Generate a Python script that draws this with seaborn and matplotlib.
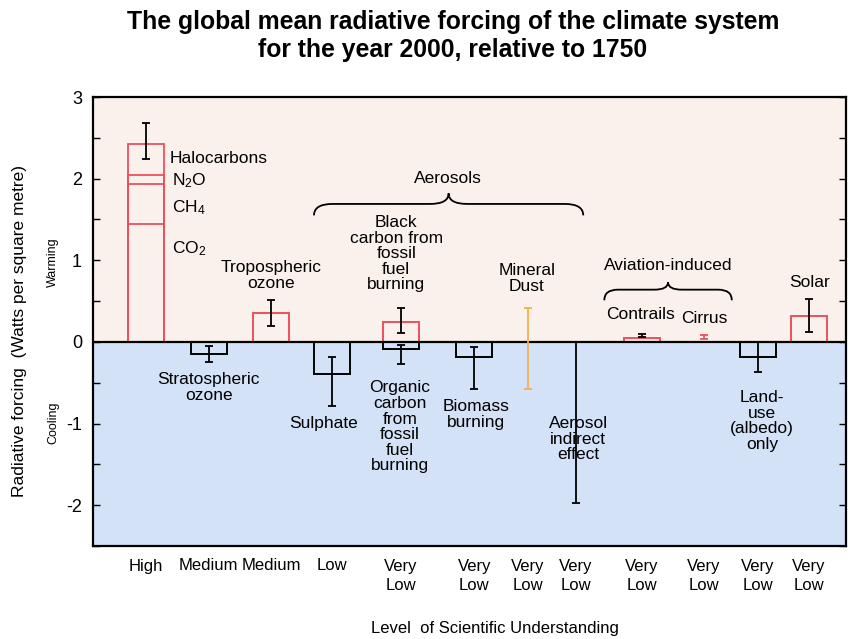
import numpy as np
import pandas as pd
import matplotlib
matplotlib.use("Agg")
import matplotlib.pyplot as plt
import seaborn as sns
from matplotlib.path import Path
from matplotlib.patches import PathPatch
from matplotlib.ticker import MultipleLocator

# --- data (W m-2) ---
ghg_names = ["CO$_2$", "CH$_4$", "N$_2$O", "Halocarbons"]
ghg_values = [1.44, 0.49, 0.12, 0.38]
ghg_err = (2.24, 2.68)

box_names = ["Stratospheric ozone", "Tropospheric ozone", "Sulphate", "Black carbon",
             "Organic carbon", "Biomass burning", "Contrails", "Land-use", "Solar"]
box_values = [-0.15, 0.35, -0.39, 0.24, -0.09, -0.19, 0.045, -0.19, 0.32]
box_warm = [False, True, False, True, False, False, True, False, True]

err_names = ["Stratospheric ozone", "Tropospheric ozone", "Sulphate", "Black carbon",
             "Organic carbon", "Biomass burning", "Mineral dust", "Aerosol indirect",
             "Contrails", "Cirrus", "Land-use", "Solar"]
err_low = [-0.25, 0.20, -0.79, 0.11, -0.27, -0.58, -0.58, -1.97, 0.06, 0.04, -0.37, 0.12]
err_high = [-0.05, 0.51, -0.19, 0.42, -0.04, -0.06, 0.42, 0.0, 0.10, 0.08, 0.0, 0.53]

los_labels = ["High", "Medium", "Medium", "Low", "Very\nLow", "Very\nLow", "Very\nLow",
              "Very\nLow", "Very\nLow", "Very\nLow", "Very\nLow", "Very\nLow"]

# --- layout: x position of each column on the axis ---
col_x = {
    "Greenhouse": 0.86, "Stratospheric ozone": 1.87, "Tropospheric ozone": 2.88,
    "Sulphate": 3.86, "Black carbon": 4.97, "Organic carbon": 4.97,
    "Biomass burning": 6.16, "Mineral dust": 7.03, "Aerosol indirect": 7.80,
    "Contrails": 8.87, "Cirrus": 9.87, "Land-use": 10.74, "Solar": 11.56,
}
tick_x = [0.86, 1.87, 2.88, 3.86, 4.97, 6.16, 7.03, 7.80, 8.87, 9.87, 10.74, 11.56]

RED = "#ee4f5c"
ORANGE = "#f6b04f"
PINK = "#fbf1ec"
BLUE = "#d4e2f8"
BAR_W = 0.58

sns.set_theme(style="ticks")
plt.rcParams["font.family"] = ["Liberation Sans", "DejaVu Sans"]
plt.rcParams["mathtext.fontset"] = "custom"
plt.rcParams["mathtext.rm"] = "Liberation Sans"
plt.rcParams["mathtext.it"] = "Liberation Sans:italic"
plt.rcParams["text.color"] = "black"
plt.rcParams["xtick.color"] = "black"
plt.rcParams["ytick.color"] = "black"

fig = plt.figure(figsize=(8.48, 6.39), dpi=100)
fig.patch.set_facecolor("white")
ax = fig.add_axes([93 / 848, (639 - 546) / 639, (846 - 93) / 848, (546 - 97) / 639])

ax.axhspan(0, 3, color=PINK, zorder=0, lw=0)
ax.axhspan(-2.5, 0, color=BLUE, zorder=0, lw=0)

# stacked greenhouse column drawn as nested open boxes from zero
ghg_df = pd.DataFrame({
    "x": [col_x["Greenhouse"]] * len(ghg_names),
    "value": np.cumsum(ghg_values)[::-1],
    "name": ghg_names[::-1],
})
sns.barplot(ghg_df, x="x", y="value", hue="name", native_scale=True, dodge=False,
            fill=False, width=BAR_W, errorbar=None, legend=False,
            palette={n: RED for n in ghg_names}, linewidth=1.3, ax=ax)

box_df = pd.DataFrame({
    "x": [col_x[n] for n in box_names],
    "value": box_values,
    "name": box_names,
})
native_w = np.diff(np.unique(box_df["x"])).min()
sns.barplot(box_df, x="x", y="value", hue="name", native_scale=True, dodge=False,
            fill=False, width=BAR_W / native_w, errorbar=None, legend=False,
            palette={n: (RED if w else "black") for n, w in zip(box_names, box_warm)},
            linewidth=1.4, ax=ax)

# uncertainty ranges
total = sum(ghg_values)
ax.errorbar([col_x["Greenhouse"]], [total], yerr=[[total - ghg_err[0]], [ghg_err[1] - total]],
            fmt="none", ecolor="black", elinewidth=1.3, capsize=3, capthick=1.3, zorder=5)
for n, lo, hi in zip(err_names, err_low, err_high):
    c = ORANGE if n == "Mineral dust" else (RED if n == "Cirrus" else "black")
    mid = (lo + hi) / 2
    ax.errorbar([col_x[n]], [mid], yerr=[[mid - lo], [hi - mid]], fmt="none", ecolor=c,
                elinewidth=1.3, capsize=3, capthick=1.3, zorder=5)

ax.axhline(0, color="black", lw=1.6, zorder=4)


def brace(x0, x1, y_tip, y_line, y_peak, r=0.3):
    xm = (x0 + x1) / 2
    verts = [(x0, y_tip), (x0, y_line), (x0 + r, y_line), (xm - r, y_line),
             (xm, y_line), (xm, y_peak), (xm, y_line), (xm + r, y_line),
             (x1 - r, y_line), (x1, y_line), (x1, y_tip)]
    codes = [Path.MOVETO, Path.CURVE3, Path.CURVE3, Path.LINETO, Path.CURVE3, Path.CURVE3,
             Path.CURVE3, Path.CURVE3, Path.LINETO, Path.CURVE3, Path.CURVE3]
    ax.add_patch(PathPatch(Path(verts, codes), fill=False, lw=1.3, ec="black", zorder=5))


brace(3.57, 7.92, 1.55, 1.69, 1.82)
brace(8.26, 10.32, 0.51, 0.64, 0.73, r=0.22)

fs = 12.5
txt = dict(fontsize=fs, color="black", linespacing=1.05, zorder=6)
ax.text(1.24, 2.25, "Halocarbons", ha="left", va="center", **txt)
ax.text(1.27, 1.98, "N$_2$O", ha="left", va="center", **txt)
ax.text(1.27, 1.65, "CH$_4$", ha="left", va="center", **txt)
ax.text(1.27, 1.14, "CO$_2$", ha="left", va="center", **txt)
ax.text(2.88, 0.81, "Tropospheric\nozone", ha="center", va="center", **txt)
ax.text(1.87, -0.56, "Stratospheric\nozone", ha="center", va="center", **txt)
ax.text(3.73, -1.00, "Sulphate", ha="center", va="center", **txt)
ax.text(4.96, -1.04, "Organic\ncarbon\nfrom\nfossil\nfuel\nburning", ha="center", va="center", **txt)
ax.text(4.90, 1.08, "Black\ncarbon from\nfossil\nfuel\nburning", ha="center", va="center", **txt)
ax.text(5.73, 2.00, "Aerosols", ha="center", va="center", **txt)
ax.text(7.01, 0.78, "Mineral\nDust", ha="center", va="center", **txt)
ax.text(6.19, -0.89, "Biomass\nburning", ha="center", va="center", **txt)
ax.text(7.84, -1.19, "Aerosol\nindirect\neffect", ha="center", va="center", **txt)
ax.text(9.29, 0.93, "Aviation-induced", ha="center", va="center", **txt)
ax.text(8.84, 0.33, "Contrails", ha="center", va="center", **txt)
ax.text(9.87, 0.29, "Cirrus", ha="center", va="center", **txt)
ax.text(10.81, -0.97, "Land-\nuse\n(albedo)\nonly", ha="center", va="center", **txt)
ax.text(11.58, 0.73, "Solar", ha="center", va="center", **txt)

ax.set_xlim(0, (846 - 93) / 61.9)
ax.set_ylim(-2.5, 3)
ax.set_yticks([-2, -1, 0, 1, 2, 3])
ax.set_yticklabels(["-2", "-1", "0", "1", "2", "3"])
ax.yaxis.set_minor_locator(MultipleLocator(0.5))
ax.tick_params(axis="y", which="both", direction="in", length=5, width=1.0,
               left=True, right=True, labelsize=13, pad=8, colors="black")
ax.set_xticks(tick_x)
ax.set_xticklabels(los_labels)
ax.tick_params(axis="x", length=0, pad=9, labelsize=12, colors="black")
for lab in ax.get_xticklabels():
    lab.set_linespacing(1.35)
ax.set_xlabel("")
ax.set_ylabel("")
for sp in ax.spines.values():
    sp.set_visible(True)
    sp.set_linewidth(1.6)
    sp.set_color("black")
    sp.set_zorder(7)

fig.text(453 / 848, 1 - 22 / 639, "The global mean radiative forcing of the climate system",
         ha="center", va="center", fontsize=17.8, fontweight="bold")
fig.text(453 / 848, 1 - 50 / 639, "for the year 2000, relative to 1750",
         ha="center", va="center", fontsize=17.8, fontweight="bold")
fig.text(20 / 848, 1 - 331 / 639, "Radiative forcing  (Watts per square metre)",
         rotation=90, ha="center", va="center", fontsize=12.5)
fig.text(53 / 848, 1 - 262 / 639, "Warming", rotation=90, ha="center", va="center", fontsize=9)
fig.text(53 / 848, 1 - 423 / 639, "Cooling", rotation=90, ha="center", va="center", fontsize=9)
fig.text(495 / 848, 1 - 628 / 639, "Level  of Scientific Understanding",
         ha="center", va="center", fontsize=12)

fig.savefig("out.png", dpi=100)
